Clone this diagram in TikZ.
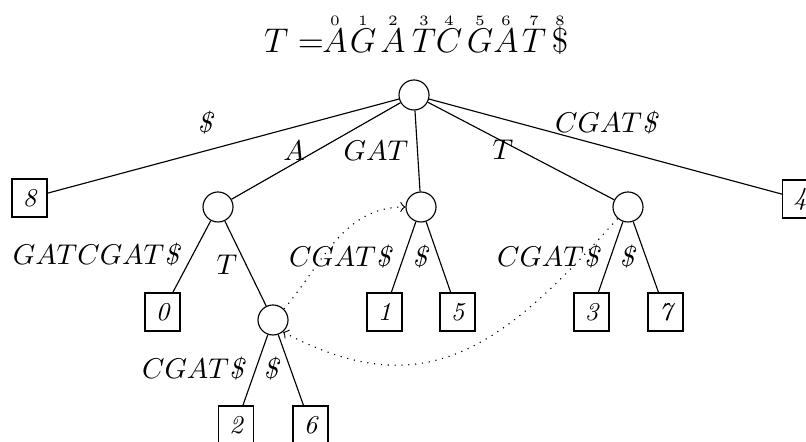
\RequirePackage{fix-cm}
\documentclass[tikz,border=0pt]{standalone}
\usepackage{amsmath}
\usepackage{amssymb}
\usepackage{tikz}
\usetikzlibrary{positioning, arrows}
\tikzset{>=to}

\begin{document}
\begin{tikzpicture}[x=0.35pt, y=-0.35pt, inner_node/.style={circle, draw=black, inner sep=0pt, minimum size=10.5pt},
leaf/.style={rectangle, draw=black, inner sep=0pt, minimum width=12.25pt, minimum height=13.3pt, font=\small\itshape},
lbl/.style={font=\normalsize}, title/.style={font=\large, anchor=base}, index/.style={font=\tiny, anchor=base},
suffix_link/.style={->, dotted}]
    \useasboundingbox (0,0) rectangle (806,442);

    % the string
    \node[title] (teq) at (294,53) {$T =$};
    \foreach \ch/\x [count=\i from 0] in {A/335, G/363, A/393, T/424, C/449, G/480, A/506, T/534, \$/560}
    {
        \node[title] (c\i) at (\x,53) {$\ch$};
        \node[index] (i\i) at (\x,26) {\i};
    }

    % tree
    \node[inner_node] (root) at (414,95) {};
    \node[leaf] (l8) at (29.5,198) {8};
    \node[inner_node] (nA) at (218,207) {};
    \node[inner_node] (nGAT) at (421,207) {};
    \node[inner_node] (nT) at (628,207) {};
    \node[leaf] (l4) at (800,199) {4};
    \node[leaf] (l0) at (162.5,312) {0};
    \node[inner_node] (nAT) at (273,320) {};
    \node[leaf] (l1) at (384.5,312) {1};
    \node[leaf] (l5) at (457.5,312) {5};
    \node[leaf] (l3) at (591.5,312) {3};
    \node[leaf] (l7) at (665.5,312) {7};
    \node[leaf] (l2) at (236,425) {2};
    \node[leaf] (l6) at (310.5,425) {6};

    \draw (root) -- (l8);
    \draw (root) -- (nA);
    \draw (root) -- (nGAT);
    \draw (root) -- (nT);
    \draw (root) -- (l4);
    \draw (nA) -- (l0);
    \draw (nA) -- (nAT);
    \draw (nGAT) -- (l1);
    \draw (nGAT) -- (l5);
    \draw (nT) -- (l3);
    \draw (nT) -- (l7);
    \draw (nAT) -- (l2);
    \draw (nAT) -- (l6);

    % edge labels
    \node[lbl] (e8) at (206,123) {\textit{\$}};
    \node[lbl] (eA) at (294,151) {$A$};
    \node[lbl] (eGAT) at (376,151) {$GAT$};
    \node[lbl] (eT) at (503,150) {$T$};
    \node[lbl] (e4) at (607,123) {$CGAT$\textit{\$}};
    \node[lbl] (e0) at (97,255) {$GATCGAT$\textit{\$}};
    \node[lbl] (eAT) at (227,265) {$T$};
    \node[lbl] (e1) at (341,257) {$CGAT$\textit{\$}};
    \node[lbl] (e5) at (421,257) {\textit{\$}};
    \node[lbl] (e3) at (549,257) {$CGAT$\textit{\$}};
    \node[lbl] (e7) at (628,257) {\textit{\$}};
    \node[lbl] (e2) at (194,369) {$CGAT$\textit{\$}};
    \node[lbl] (e6) at (272,369) {\textit{\$}};

    % suffix links
    \draw[suffix_link] (nAT.45) to[out=50, in=180] (nGAT.west);
    \draw[suffix_link] (nT.-132) to[out=-132, in=-28, looseness=1.2] (nAT.-50);
\end{tikzpicture}
\end{document}
